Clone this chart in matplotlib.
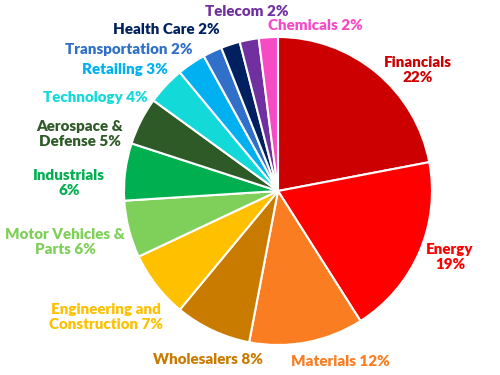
import matplotlib.pyplot as plt

# Sector shares (%), clockwise from 12 o'clock
sectors = ["Financials", "Energy", "Materials", "Wholesalers",
           "Engineering and\nConstruction", "Motor Vehicles &\nParts",
           "Industrials\n", "Aerospace &\nDefense", "Technology",
           "Retailing", "Transportation", "Health Care", "Telecom",
           "Chemicals"]
shares = [22, 19, 12, 8, 7, 6, 6, 5, 4, 3, 2, 2, 2, 2]
colors = ["#CC0000", "#FF0000", "#FA7D22", "#C97B00", "#FFC000", "#7ED05A",
          "#00B050", "#2D5A27", "#14D9D9", "#00B0F0", "#3070C8", "#002060",
          "#7030A0", "#F74BC5"]

# label centres in pixel space (x from left, y from top)
label_pos = [(418, 70), (450, 257), (340, 361), (208, 360), (106, 317),
             (65, 242), (69, 183), (80, 134), (95, 97), (125, 70),
             (129, 49), (166, 29), (247, 11), (315, 26)]
# whether the percentage goes on its own line
pct_newline = [True, True, False, False, False, False, False, False,
               False, False, False, False, False, False]

W, H = 500, 375
fig = plt.figure(figsize=(5, 3.75), dpi=100)
ax = fig.add_axes([0, 0, 1, 1])

ax.pie(shares, colors=colors, startangle=90, counterclock=False,
       center=(278, H - 191), radius=154, frame=True,
       wedgeprops=dict(edgecolor="white", linewidth=1.5))
ax.set_xlim(0, W)
ax.set_ylim(0, H)
ax.axis("off")

for name, val, col, (px, py), nl in zip(sectors, shares, colors, label_pos, pct_newline):
    if name.endswith("\n"):
        txt = name + f"{val}%"
    elif nl:
        txt = f"{name}\n{val}%"
    else:
        txt = f"{name} {val}%"
    ax.text(px, H - py, txt, color=col, ha="center", va="center",
            fontsize=10.9, fontweight="heavy", family="Lato", linespacing=1.25)

fig.savefig("out.png", dpi=100)
